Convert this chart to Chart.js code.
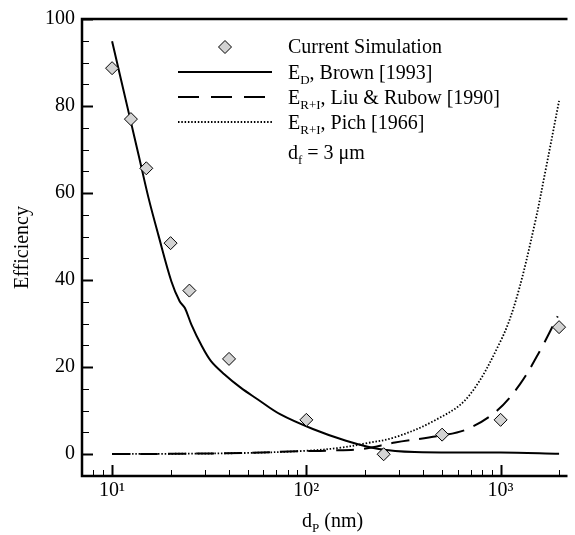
<!DOCTYPE html>
<html>
<head>
<meta charset="utf-8">
<script src="https://cdn.jsdelivr.net/npm/chart.js@4"></script>
<style>
  html, body { margin: 0; padding: 0; background: #fff; }
  #wrap { width: 575px; height: 535px; }
</style>
</head>
<body>
<div id="wrap"><canvas id="chart" width="575" height="535"></canvas></div>
<script>
// particle diameter (nm) and efficiency values
const simD = [10, 12.5, 15, 20, 25, 40, 100, 250, 500, 1000, 2000];
const simEff = [88.7, 77.0, 65.7, 48.5, 37.6, 21.9, 7.9, 0, 4.5, 7.9, 29.2];

const brownD = [10, 12.4, 13.7, 15.4, 17.3, 20.2, 22.3, 23.7, 25.6, 28.7, 32.3, 37.8, 45.9, 55.8, 73.2, 108, 160, 236, 361, 1000, 2000];
const brownEff = [94.9, 77.0, 68.7, 58.9, 50.4, 39.7, 35.1, 33.6, 29.8, 25.2, 21.4, 18.4, 15.3, 12.7, 9.2, 5.8, 3.1, 1.2, 0.5, 0.4, 0.1];

const liuD = [10, 20, 50, 90, 131, 194, 286, 494, 675, 957, 1259, 1591, 1968];
const liuEff = [0.05, 0.1, 0.3, 0.7, 0.85, 1.2, 2.7, 4.3, 5.8, 10.0, 16.1, 23.7, 31.7];

const pichD = [10, 20, 50, 100, 150, 202, 286, 455, 675, 1000, 1210, 1500, 1710, 2000];
const pichEff = [0.05, 0.1, 0.3, 0.8, 1.5, 2.5, 3.9, 7.7, 13.0, 26.0, 36.0, 53.0, 65.6, 81.2];

const xMajor = [10, 100, 1000];
const xMinor = [8, 9, 20, 30, 40, 50, 60, 70, 80, 90, 200, 300, 400, 500, 600, 700, 800, 900, 2000];
const xLabels = { 10: '10\u00b9', 100: '10\u00b2', 1000: '10\u00b3' };
const yMajor = [0, 20, 40, 60, 80, 100];
const yMinor = [5, 10, 15, 25, 30, 35, 45, 50, 55, 65, 70, 75, 85, 90, 95];

const SERIF = "'Liberation Serif', 'Times New Roman', serif";

const pairs = (xs, ys) => xs.map((v, i) => ({ x: v, y: ys[i] }));

// draws text with optional subscript pieces
function richText(ctx, parts, x, baseline) {
    parts.forEach(p => {
        ctx.font = p.sub ? `13px ${SERIF}` : `20px ${SERIF}`;
        ctx.fillText(p.t, x, baseline + (p.sub ? 5 : 0));
        x += ctx.measureText(p.t).width;
    });
}

const framePlugin = {
    id: 'frame',
    afterDraw(chart) {
        const { ctx, chartArea: a, scales: { x, y } } = chart;
        ctx.save();
        ctx.strokeStyle = '#000';
        ctx.fillStyle = '#000';

        // inward ticks
        const xTick = (v, len, w) => {
            const px = Math.round(x.getPixelForValue(v)) + 0.5;
            ctx.lineWidth = w;
            ctx.beginPath();
            ctx.moveTo(px, a.bottom);
            ctx.lineTo(px, a.bottom - len);
            ctx.stroke();
        };
        const yTick = (v, len, w) => {
            const py = Math.round(y.getPixelForValue(v)) + 0.5;
            ctx.lineWidth = w;
            ctx.beginPath();
            ctx.moveTo(a.left, py);
            ctx.lineTo(a.left + len, py);
            ctx.stroke();
        };
        xMinor.forEach(v => xTick(v, 6, 1));
        xMajor.forEach(v => xTick(v, 11, 2));
        yMinor.forEach(v => yTick(v, 7, 1));
        yMajor.forEach(v => yTick(v, 11, 2));

        // frame: left, bottom, top
        ctx.lineWidth = 2.5;
        ctx.beginPath();
        ctx.moveTo(a.right, a.top);
        ctx.lineTo(a.left, a.top);
        ctx.lineTo(a.left, a.bottom);
        ctx.lineTo(a.right, a.bottom);
        ctx.stroke();

        // x axis title with subscript
        ctx.textAlign = 'left';
        ctx.textBaseline = 'alphabetic';
        richText(ctx, [{ t: 'd' }, { t: 'P', sub: true }, { t: ' (nm)' }], 302, 527);

        // legend
        const lx0 = 178, lx1 = 272, tx = 288;
        ctx.beginPath();
        ctx.moveTo(225, 40.5);
        ctx.lineTo(231.5, 47);
        ctx.lineTo(225, 53.5);
        ctx.lineTo(218.5, 47);
        ctx.closePath();
        ctx.fillStyle = '#d3d3d3';
        ctx.fill();
        ctx.lineWidth = 1;
        ctx.stroke();
        ctx.fillStyle = '#000';

        const legendLine = (yy, dash, w) => {
            ctx.setLineDash(dash);
            ctx.lineWidth = w;
            ctx.beginPath();
            ctx.moveTo(lx0, yy);
            ctx.lineTo(lx1, yy);
            ctx.stroke();
        };
        legendLine(72, [], 2);
        legendLine(97, [21, 12], 2);
        legendLine(122, [1.5, 1.8], 1.8);
        ctx.setLineDash([]);

        richText(ctx, [{ t: 'Current Simulation' }], tx, 53);
        richText(ctx, [{ t: 'E' }, { t: 'D', sub: true }, { t: ', Brown [1993]' }], tx, 79);
        richText(ctx, [{ t: 'E' }, { t: 'R+I', sub: true }, { t: ', Liu & Rubow [1990]' }], tx, 104);
        richText(ctx, [{ t: 'E' }, { t: 'R+I', sub: true }, { t: ', Pich [1966]' }], tx, 129);
        richText(ctx, [{ t: 'd' }, { t: 'f', sub: true }, { t: ' = 3 \u03bcm' }], tx, 159);

        ctx.restore();
    }
};

new Chart(document.getElementById('chart'), {
    type: 'scatter',
    data: {
        datasets: [
            {
                label: 'Current Simulation',
                data: pairs(simD, simEff),
                pointStyle: 'rectRot',
                pointRadius: 6.5,
                pointBackgroundColor: '#d3d3d3',
                pointBorderColor: '#000',
                pointBorderWidth: 1,
                showLine: false
            },
            {
                label: 'E_D, Brown [1993]',
                data: pairs(brownD, brownEff),
                showLine: true,
                borderColor: '#000',
                borderWidth: 2,
                pointRadius: 0,
                tension: 0.35
            },
            {
                label: 'E_R+I, Liu & Rubow [1990]',
                data: pairs(liuD, liuEff),
                showLine: true,
                borderColor: '#000',
                borderWidth: 2,
                borderDash: [18, 10],
                pointRadius: 0,
                tension: 0.35
            },
            {
                label: 'E_R+I, Pich [1966]',
                data: pairs(pichD, pichEff),
                showLine: true,
                borderColor: '#000',
                borderWidth: 1.8,
                borderDash: [1.5, 1.8],
                pointRadius: 0,
                tension: 0.35
            }
        ]
    },
    options: {
        responsive: false,
        animation: false,
        devicePixelRatio: 1,
        layout: { padding: { top: 16, right: 0, left: 0, bottom: 0 } },
        plugins: {
            legend: { display: false },
            tooltip: { enabled: false }
        },
        scales: {
            x: {
                type: 'logarithmic',
                min: 7,
                max: 2210,
                afterBuildTicks: s => { s.ticks = xMajor.map(v => ({ value: v })); },
                afterFit: s => { s.height = 59; },
                grid: { display: false, drawTicks: false },
                border: { display: false },
                ticks: {
                    autoSkip: false,
                    maxRotation: 0,
                    padding: 3,
                    color: '#000',
                    font: { family: SERIF, size: 20 },
                    callback: v => xLabels[v] || ''
                }
            },
            y: {
                min: -5,
                max: 100,
                afterBuildTicks: s => { s.ticks = yMajor.map(v => ({ value: v })); },
                afterFit: s => { s.width = 82; },
                grid: { display: false, drawTicks: false },
                border: { display: false },
                ticks: {
                    padding: 7,
                    color: '#000',
                    font: { family: SERIF, size: 20 }
                },
                title: {
                    display: true,
                    text: 'Efficiency',
                    color: '#000',
                    font: { family: SERIF, size: 20 },
                    padding: { top: 11, bottom: 0 }
                }
            }
        }
    },
    plugins: [framePlugin]
});
</script>
</body>
</html>
